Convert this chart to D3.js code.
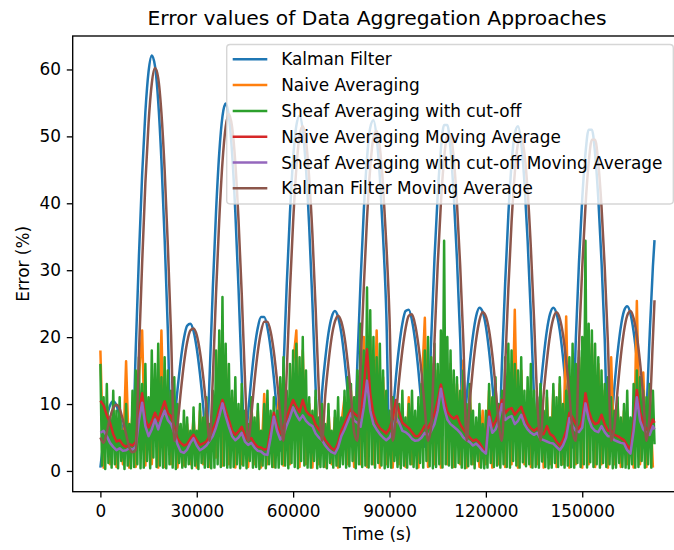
<!DOCTYPE html>
<html>
<head>
<meta charset="utf-8">
<script src="https://cdn.jsdelivr.net/npm/d3@7"></script>
<style>
body { margin: 0; background: #fff; }
text { font-family: "DejaVu Sans", sans-serif; fill: #000; }
</style>
</head>
<body>
<script>
var width = 674;
var height = 550;

var seriesNames = ["Kalman Filter", "Naive Averaging", "Sheaf Averaging with cut-off",
  "Naive Averaging Moving Average", "Sheaf Averaging with cut-off Moving Average",
  "Kalman Filter Moving Average"];
var seriesColors = ["#1f77b4", "#ff7f0e", "#2ca02c", "#d62728", "#9467bd", "#8c564b"];

var xTicks = [0, 30000, 60000, 90000, 120000, 150000];
var yTicks = [0, 10, 20, 30, 40, 50, 60];

// sample times (s)
var timeSmooth = d3.range(0, 173000, 1000).concat([172500]);
var timeNaive = d3.range(0, 173000, 1000);
var timeSheaf = d3.range(0, 173000, 500);

// Kalman Filter
var kalman = [
  0.5, 4.5, 7.8, 9.8, 10.4, 9.8, 8.2, 6.0, 3.8, 2.7,
  3.2, 18.1, 32.1, 44.3, 53.6, 59.7, 62.1, 60.5, 55.2, 46.4,
  34.7, 21.0, 3.5, 7.1, 12.1, 16.5, 19.8, 21.7, 22.0, 20.9,
  18.3, 14.5, 9.7, 3.5, 14.2, 27.3, 38.7, 47.5, 53.0, 54.9,
  53.0, 47.5, 38.7, 27.3, 14.2, 3.0, 8.7, 13.9, 18.3, 21.4,
  23.0, 23.0, 21.4, 18.3, 13.9, 8.7, 3.0, 15.1, 27.7, 38.4,
  46.6, 51.6, 53.1, 50.9, 45.2, 36.5, 25.2, 12.5, 3.5, 11.7,
  16.7, 20.6, 23.0, 23.9, 23.0, 20.6, 16.7, 11.7, 6.0, 3.0,
  16.2, 28.4, 38.9, 46.7, 51.3, 52.4, 49.8, 43.9, 35.0, 23.7,
  4.0, 8.4, 14.0, 18.6, 22.0, 23.9, 24.1, 22.5, 19.4, 15.0,
  9.6, 3.6, 7.0, 19.9, 31.7, 41.2, 48.1, 51.7, 51.7, 48.1,
  41.2, 31.7, 19.9, 3.5, 10.8, 16.1, 20.3, 23.2, 24.4, 23.8,
  21.6, 17.9, 13.0, 7.3, 3.0, 16.0, 28.0, 38.3, 45.9, 50.4,
  51.5, 49.0, 43.2, 34.4, 23.4, 10.9, 3.5, 11.9, 17.0, 21.0,
  23.5, 24.4, 23.5, 21.0, 17.0, 11.9, 6.1, 3.5, 19.7, 31.3,
  40.7, 47.4, 51.0, 51.0, 47.4, 40.7, 31.3, 19.7, 3.5, 6.7,
  12.5, 17.6, 21.5, 23.9, 24.6, 23.5, 20.8, 16.7, 11.4, 3.5,
  9.0, 20.4, 30.6, 34.5
];

// Naive Averaging
var naive = [
  18, 0.5, 10, 1, 9, 0.6, 8, 1, 16.4, 0.5,
  9, 0.6, 14, 21, 0.8, 9, 1, 14, 0.5, 21,
  0.6, 12, 1, 11, 0.5, 6, 0.8, 7, 1, 8,
  0.5, 9, 1, 10, 0.6, 11, 2, 19, 0.8, 17,
  1, 11, 0.5, 9, 1, 8, 0.6, 10, 1, 9,
  0.5, 11.5, 1, 8, 0.6, 8, 13, 0.8, 11, 1,
  16, 21, 0.6, 18, 1, 10, 0.5, 11, 1, 9,
  0.6, 9, 1, 8, 0.5, 7, 11, 1, 12, 0.6,
  13, 1, 20, 0.6, 20, 1, 21, 0.5, 14, 1,
  8, 0.5, 10, 1, 9, 0.6, 11, 1, 8, 0.5,
  12, 22.9, 0.6, 16, 1, 15, 0.5, 20, 1, 16,
  0.6, 13, 1, 16.5, 0.5, 12, 1, 7, 0.6, 9,
  1, 12, 0.5, 13, 1, 11, 0.6, 16, 1, 24.1,
  0.5, 15, 1, 12, 0.6, 10, 1, 12, 0.5, 11,
  1, 12, 0.6, 13, 1, 23.1, 0.5, 15, 1, 17,
  0.5, 22, 1, 19, 0.6, 16, 1, 12, 0.5, 17,
  1, 10, 0.6, 9, 1, 7, 0.5, 25.4, 1, 14.7,
  0.6, 12, 0.5
];

// Sheaf Averaging with cut-off
var sheaf = [
  16, 0.8, 11, 0.3, 13, 1.2, 8, 0.5, 12, 1,
  9, 0.4, 11, 1.5, 6, 0.3, 10, 0.8, 7, 0.4,
  12, 0.6, 15, 1, 17, 0.4, 13, 0.5, 16, 1.5,
  11, 0.4, 18, 2, 16, 0.6, 19, 0.8, 14, 0.5,
  17, 0.4, 15, 1, 12, 0.5, 14, 0.3, 10, 1.2,
  7, 0.5, 9, 0.6, 8, 1, 6, 0.4, 9.5, 0.8,
  6, 0.3, 10, 1.2, 8, 0.5, 11, 0.6, 7, 0.4,
  12, 0.5, 18, 1, 21, 0.6, 26, 0.8, 19, 0.5,
  16, 0.5, 12, 0.6, 14, 1, 10, 0.4, 13, 0.8,
  9, 0.4, 7, 1.5, 11, 0.5, 8, 0.6, 10, 0.3,
  6, 0.8, 10, 0.4, 12, 1, 9, 0.6, 11, 0.5,
  9, 0.5, 14, 1, 17, 0.8, 12, 0.4, 16, 1.2,
  18, 0.6, 19, 0.4, 17, 1.5, 20, 0.8, 15, 0.5,
  11, 0.5, 9, 1.5, 12, 0.4, 8, 0.6, 10, 0.6,
  7, 0.4, 10, 1.2, 6, 0.5, 9, 0.8, 11, 0.6,
  8, 1, 12, 0.5, 14, 0.7, 13, 1.5, 11, 0.4,
  15, 1, 22, 0.6, 18, 0.8, 27.4, 0.5, 24, 1,
  20, 0.5, 17, 1.2, 19, 0.8, 15, 0.4, 12, 0.6,
  9, 0.5, 11, 1.5, 7, 0.6, 10, 0.4, 12, 0.8,
  8, 0.5, 10, 1, 12, 0.6, 9, 0.4, 11, 1.2,
  13, 0.5, 18, 1.5, 20, 0.7, 17, 0.4, 19, 0.6,
  16, 1, 21, 0.5, 34.4, 1, 20, 0.8, 18, 0.5,
  15, 0.6, 14, 1.2, 12, 0.5, 15, 0.4, 10, 0.7,
  13, 1, 9, 0.4, 8, 1.5, 10, 0.5, 7, 0.4,
  9, 0.5, 13, 1.2, 11, 0.6, 14, 0.8, 10, 0.5,
  12, 1, 17, 0.6, 19, 0.5, 18, 1.5, 16, 0.8,
  15, 0.5, 17, 1.3, 12, 0.7, 14, 1, 16, 0.5,
  12, 0.6, 11, 0.5, 13, 1.4, 9, 0.6, 12, 0.4,
  8, 0.5, 13, 1.2, 11, 0.6, 14, 0.9, 10, 0.5,
  12, 0.8, 17, 0.6, 19, 0.5, 16, 1.2, 18, 0.6,
  20, 1, 34.4, 0.5, 22, 1.3, 21, 0.6, 19, 1,
  17, 0.5, 15, 1.2, 13, 0.6, 14, 1, 11, 0.4,
  9, 0.5, 11, 1.2, 8, 0.6, 10, 0.5, 12, 0.4,
  8, 1, 13, 0.5, 15, 0.6, 14, 1.5, 12, 0.5,
  11, 1, 13, 0.5, 12, 4
];

// Naive Averaging Moving Average
var naiveMA = [
  10.5, 9.8, 8.3, 7.2, 5.5, 4.4, 4.6, 3.9, 3.6, 4.0,
  3.8, 4.3, 8.5, 11.6, 7.7, 6.5, 7.4, 8.7, 7.5, 9.0,
  10.4, 8.6, 8.2, 6.6, 4.8, 4.2, 3.8, 4.0, 4.8, 5.4,
  4.6, 3.9, 4.1, 4.4, 5.2, 6.2, 7.3, 9.2, 10.6, 9.1,
  7.6, 6.0, 5.4, 5.9, 6.6, 5.3, 4.6, 4.9, 4.1, 3.6,
  3.5, 3.2, 3.3, 6.0, 8.7, 6.8, 5.6, 6.5, 7.9, 9.4,
  10.6, 9.6, 8.8, 10.6, 9.0, 8.4, 8.2, 6.9, 6.2, 5.6,
  4.6, 4.0, 3.4, 3.1, 4.2, 6.0, 7.0, 8.2, 9.2, 8.6,
  8.2, 8.0, 12.5, 18.2, 11.5, 8.5, 7.2, 6.4, 6.0, 5.6,
  6.3, 7.8, 10.6, 8.8, 7.2, 6.8, 6.4, 5.8, 5.2, 5.2,
  5.9, 6.8, 6.4, 7.4, 8.5, 10.5, 12.9, 10.8, 8.8, 8.2,
  7.8, 8.2, 7.0, 6.2, 5.5, 5.0, 4.5, 4.7, 4.2, 3.4,
  2.8, 9.0, 6.6, 7.4, 8.8, 10.6, 8.6, 9.2, 9.4, 8.4,
  9.0, 9.6, 8.2, 7.0, 6.4, 6.0, 6.4, 5.6, 5.5, 6.7,
  5.5, 5.2, 4.4, 3.8, 4.6, 6.0, 8.7, 8.0, 7.0, 6.2,
  7.6, 11.6, 9.0, 7.6, 7.0, 7.2, 8.4, 7.0, 6.0, 6.0,
  5.4, 5.2, 4.9, 4.6, 3.8, 3.2, 7.0, 12.1, 8.8, 7.2,
  6.2, 6.4, 7.7, 7.2
];

// Sheaf Averaging with cut-off Moving Average
var sheafMA = [
  5.7, 6.0, 5.2, 4.2, 3.6, 3.1, 3.4, 3.0, 3.1, 3.4,
  3.2, 3.6, 7.5, 10.2, 6.7, 5.2, 6.2, 7.7, 6.2, 7.8,
  9.0, 7.6, 7.0, 5.7, 4.0, 2.9, 2.7, 3.2, 4.2, 4.9,
  3.8, 3.1, 3.4, 3.8, 4.5, 5.2, 6.5, 8.2, 10.1, 8.2,
  6.6, 5.2, 4.6, 5.0, 5.7, 4.4, 3.9, 4.2, 3.5, 3.0,
  2.9, 2.5, 2.4, 5.0, 8.1, 6.0, 4.7, 5.4, 6.8, 8.0,
  9.5, 8.4, 7.6, 8.3, 7.5, 7.0, 6.7, 5.6, 5.0, 4.6,
  3.8, 3.2, 2.8, 2.6, 3.5, 5.2, 6.2, 7.4, 8.6, 7.5,
  7.2, 6.6, 9.5, 13.5, 9.0, 7.0, 6.2, 5.5, 5.0, 4.6,
  5.0, 6.0, 8.1, 7.2, 6.0, 5.8, 5.4, 4.8, 4.5, 4.6,
  5.0, 5.7, 5.2, 6.0, 7.0, 9.0, 12.3, 9.5, 7.7, 7.0,
  6.6, 6.2, 5.7, 5.0, 4.6, 4.3, 3.8, 4.1, 3.6, 3.0,
  2.6, 8.1, 5.7, 6.2, 7.5, 10.0, 7.6, 8.0, 8.2, 7.0,
  7.5, 8.4, 7.0, 6.2, 5.7, 5.4, 5.7, 4.8, 4.6, 4.4,
  4.2, 4.1, 3.6, 3.1, 3.8, 5.0, 7.9, 6.7, 6.0, 5.8,
  6.5, 10.1, 7.8, 6.5, 6.0, 5.8, 6.7, 5.8, 5.2, 5.2,
  4.6, 4.4, 4.2, 4.1, 3.1, 2.6, 6.0, 11.0, 7.5, 6.2,
  5.7, 5.4, 6.7, 6.2
];

// Kalman Filter Moving Average
var kalmanMA = [
  5.0, 4.2, 5.8, 8.0, 9.4, 9.9, 9.3, 7.6, 5.5, 3.5,
  2.8, 3.1, 17.6, 31.1, 43.0, 52.0, 57.9, 60.2, 58.7, 53.5,
  45.0, 33.7, 20.4, 4.5, 6.9, 11.7, 16.0, 19.2, 21.0, 21.3,
  20.3, 17.8, 14.1, 9.4, 4.5, 13.8, 26.5, 37.5, 46.1, 51.4,
  53.3, 51.4, 46.1, 37.5, 26.5, 13.8, 4.5, 8.4, 13.5, 17.8,
  20.8, 22.3, 22.3, 20.8, 17.8, 13.5, 8.4, 4.5, 14.6, 26.9,
  37.2, 45.2, 50.1, 51.5, 49.4, 43.8, 35.4, 24.4, 12.1, 4.5,
  11.3, 16.2, 20.0, 22.3, 23.2, 22.3, 20.0, 16.2, 11.3, 5.8,
  4.5, 15.7, 27.5, 37.7, 45.3, 49.8, 50.8, 48.3, 42.6, 34.0,
  23.0, 4.5, 8.1, 13.6, 18.0, 21.3, 23.2, 23.4, 21.8, 18.8,
  14.6, 9.3, 4.5, 6.8, 19.3, 30.7, 40.0, 46.7, 50.1, 50.1,
  46.7, 40.0, 30.7, 19.3, 4.5, 10.5, 15.6, 19.7, 22.5, 23.7,
  23.1, 21.0, 17.4, 12.6, 7.1, 4.5, 15.5, 27.2, 37.2, 44.5,
  48.9, 50.0, 47.5, 41.9, 33.4, 22.7, 10.6, 4.5, 11.5, 16.5,
  20.4, 22.8, 23.7, 22.8, 20.4, 16.5, 11.5, 5.9, 4.5, 19.1,
  30.4, 39.5, 46.0, 49.5, 49.5, 46.0, 39.5, 30.4, 19.1, 4.5,
  6.5, 12.1, 17.1, 20.9, 23.2, 23.9, 22.8, 20.2, 16.2, 11.1,
  4.5, 8.7, 19.8, 25.5
];

var svg = d3.select("body")
.append("svg")
.attr("width", width)
.attr("height", height)
.style("display", "block");

svg.append("rect")
.attr("width", width)
.attr("height", height)
.attr("fill", "#fff");

var plotLeft = 72.7, plotRight = 681.5, plotTop = 36, plotBottom = 491.7;

var x = d3.scaleLinear()
.domain([-8620, 180900])
.range([plotLeft, plotRight]);

var y = d3.scaleLinear()
.domain([-3.1, 65.0])
.range([plotBottom, plotTop]);

svg.append("clipPath")
.attr("id", "plotclip")
.append("rect")
.attr("x", plotLeft)
.attr("y", plotTop)
.attr("width", plotRight - plotLeft)
.attr("height", plotBottom - plotTop);

var series = [
  {t: timeSmooth, v: kalman, curve: d3.curveMonotoneX},
  {t: timeNaive, v: naive, curve: d3.curveLinear},
  {t: timeSheaf, v: sheaf, curve: d3.curveLinear},
  {t: timeSmooth, v: naiveMA, curve: d3.curveLinear},
  {t: timeSmooth, v: sheafMA, curve: d3.curveLinear},
  {t: timeSmooth, v: kalmanMA, curve: d3.curveMonotoneX}
];

var plot = svg.append("g").attr("clip-path", "url(#plotclip)");

series.forEach(function(s, i) {
  var line = d3.line()
  .x(function(d) { return x(d[0]); })
  .y(function(d) { return y(d[1]); })
  .curve(s.curve);
  plot.append("path")
  .datum(d3.zip(s.t, s.v))
  .attr("fill", "none")
  .attr("stroke", seriesColors[i])
  .attr("stroke-width", 2.5)
  .attr("stroke-linejoin", "round")
  .attr("d", line);
});

// axes
var xAxis = d3.axisBottom(x)
.tickValues(xTicks)
.tickFormat(d3.format("d"))
.tickSize(5.9)
.tickSizeOuter(0)
.tickPadding(7);

var yAxis = d3.axisLeft(y)
.tickValues(yTicks)
.tickFormat(d3.format("d"))
.tickSize(5.9)
.tickSizeOuter(0)
.tickPadding(5.9);

var gx = svg.append("g")
.attr("transform", "translate(0," + plotBottom + ")")
.call(xAxis);
var gy = svg.append("g")
.attr("transform", "translate(" + plotLeft + ",0)")
.call(yAxis);

[gx, gy].forEach(function(g) {
  g.select(".domain").remove();
  g.selectAll(".tick line").attr("stroke", "#000").attr("stroke-width", 1.3);
  g.selectAll(".tick text")
  .attr("fill", "#000")
  .attr("font-family", "DejaVu Sans")
  .attr("font-size", "16.9px");
});

// spines
svg.append("rect")
.attr("x", plotLeft)
.attr("y", plotTop)
.attr("width", plotRight - plotLeft)
.attr("height", plotBottom - plotTop)
.attr("fill", "none")
.attr("stroke", "#000")
.attr("stroke-width", 1.35);

// titles
svg.append("text")
.attr("x", (plotLeft + plotRight) / 2)
.attr("y", 25)
.attr("text-anchor", "middle")
.attr("font-size", "20.3px")
.text("Error values of Data Aggregation Approaches");

svg.append("text")
.attr("x", (plotLeft + plotRight) / 2)
.attr("y", 540)
.attr("text-anchor", "middle")
.attr("font-size", "16.9px")
.text("Time (s)");

svg.append("text")
.attr("transform", "translate(28.5," + ((plotTop + plotBottom) / 2) + ") rotate(-90)")
.attr("text-anchor", "middle")
.attr("font-size", "16.9px")
.text("Error (%)");

// legend
var legendX = 226.7, legendY = 44.5, legendW = 446.6, legendH = 159.5;
var legend = svg.append("g");

legend.append("rect")
.attr("x", legendX)
.attr("y", legendY)
.attr("width", legendW)
.attr("height", legendH)
.attr("rx", 3.4)
.attr("fill", "#fff")
.attr("fill-opacity", 0.8)
.attr("stroke", "#ccc")
.attr("stroke-opacity", 0.8)
.attr("stroke-width", 1.4);

var rowH = 25.8;
var rows = legend.selectAll(".row")
.data(seriesNames)
.enter()
.append("g")
.attr("transform", function(d, i) {
  return "translate(0," + (59.3 + i * rowH) + ")";
});

rows.append("line")
.attr("x1", 232.7)
.attr("x2", 267.3)
.attr("y1", 0)
.attr("y2", 0)
.attr("stroke", function(d, i) { return seriesColors[i]; })
.attr("stroke-width", 2.5);

rows.append("text")
.attr("x", 281.2)
.attr("y", 6.1)
.attr("font-size", "16.9px")
.text(function(d) { return d; });
</script>
</body>
</html>
